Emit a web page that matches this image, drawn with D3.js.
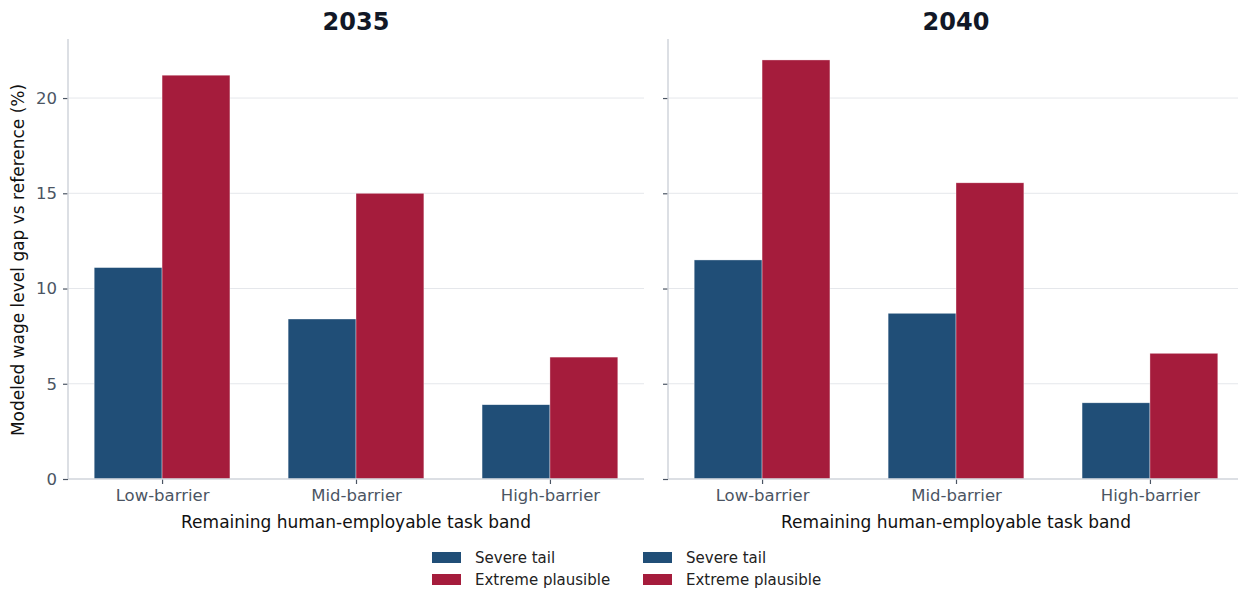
<!DOCTYPE html>
<html>
<head>
<meta charset="utf-8">
<script src="https://cdn.jsdelivr.net/npm/d3@7/dist/d3.min.js"></script>
<style>
  body { margin: 0; background: #fff; }
  svg { display: block; font-family: "DejaVu Sans", sans-serif; }
  .grid line { stroke: #e5e7eb; stroke-width: 1; }
</style>
</head>
<body>
<div id="chart"></div>
<script>
// data
const years = ['2035', '2040'];
const bands = ['Low-barrier', 'Mid-barrier', 'High-barrier'];
const seriesNames = ['Severe tail', 'Extreme plausible'];
const severe2035 = [11.1, 8.4, 3.9];
const extreme2035 = [21.2, 15.0, 6.4];
const severe2040 = [11.5, 8.7, 4.0];
const extreme2040 = [22.0, 15.55, 6.6];
const yTicks = [0, 5, 10, 15, 20];

const colors = ['#204e77', '#a51c3c'];

const panels = [
  { year: years[0], values: [severe2035, extreme2035] },
  { year: years[1], values: [severe2040, extreme2040] }
];

const width = 1238, height = 590;
const plotTop = 39, plotBottom = 479;
const panelX = [68, 668];
const panelW = 576;

const svg = d3.select('#chart').append('svg')
  .attr('width', width)
  .attr('height', height);

const yMax = d3.max([severe2035, extreme2035, severe2040, extreme2040].flat()) * 1.05;
const y = d3.scaleLinear().domain([0, yMax]).range([plotBottom, plotTop]);

// matplotlib style: bars at 0,1,2 with width .35 each, 5% margins
const barW = 0.35;
const lo = -barW - 0.05 * (2 + 2 * barW), hi = 2 + barW + 0.05 * (2 + 2 * barW);

let styleAxis = function(a) {
  a.attr('font-family', '"DejaVu Sans", sans-serif').attr('font-size', 16.5);
  a.select('.domain').remove();
  a.selectAll('.tick line').attr('stroke', '#4b5563').attr('stroke-width', 1.2);
  a.selectAll('.tick text').attr('fill', '#4b5563');
};

panels.forEach(function(p, pi) {
  let x0 = panelX[pi];
  let x = d3.scaleLinear().domain([lo, hi]).range([x0, x0 + panelW]);
  let g = svg.append('g');

  // gridlines
  g.append('g').attr('class', 'grid')
    .selectAll('line')
    .data(yTicks.slice(1))
    .enter().append('line')
    .attr('x1', x0).attr('x2', x0 + panelW)
    .attr('y1', function(d) { return y(d); })
    .attr('y2', function(d) { return y(d); });

  // bars
  p.values.forEach(function(vals, si) {
    g.selectAll('.bar' + si)
      .data(vals)
      .enter().append('rect')
      .attr('class', 'bar' + si)
      .attr('x', function(d, i) { return x(i + (si === 0 ? -barW : 0)); })
      .attr('width', x(barW) - x(0))
      .attr('y', function(d) { return y(d); })
      .attr('height', function(d) { return plotBottom - y(d); })
      .attr('fill', colors[si])
      .attr('stroke', '#ffffff')
      .attr('stroke-opacity', 0.6)
      .attr('stroke-width', 0.6);
  });

  // y axis
  let yAxis = d3.axisLeft(y).tickValues(yTicks).tickSize(5).tickPadding(6);
  if (pi === 1) yAxis.tickFormat('');
  g.append('g')
    .attr('transform', 'translate(' + x0 + ',0)')
    .call(yAxis)
    .call(styleAxis);

  // x axis
  g.append('g')
    .attr('transform', 'translate(0,' + plotBottom + ')')
    .call(d3.axisBottom(x).tickValues([0, 1, 2]).tickFormat(function(d) { return bands[d]; }).tickSize(5).tickPadding(5))
    .call(styleAxis);

  // spines
  g.append('line')
    .attr('x1', x0).attr('x2', x0)
    .attr('y1', plotTop).attr('y2', plotBottom)
    .attr('stroke', '#d1d5db').attr('stroke-width', 1.5);
  g.append('line')
    .attr('x1', x0).attr('x2', x0 + panelW)
    .attr('y1', plotBottom).attr('y2', plotBottom)
    .attr('stroke', '#d1d5db').attr('stroke-width', 1.5);

  // title
  g.append('text')
    .attr('x', x0 + panelW / 2)
    .attr('y', 30)
    .attr('text-anchor', 'middle')
    .attr('font-size', 24)
    .attr('font-weight', 'bold')
    .attr('fill', '#111827')
    .text(p.year);

  // x label
  g.append('text')
    .attr('x', x0 + panelW / 2)
    .attr('y', 528)
    .attr('text-anchor', 'middle')
    .attr('font-size', 17)
    .attr('fill', '#111111')
    .text('Remaining human-employable task band');
});

// y label
svg.append('text')
  .attr('transform', 'translate(24,260) rotate(-90)')
  .attr('text-anchor', 'middle')
  .attr('font-size', 17)
  .attr('fill', '#111111')
  .text('Modeled wage level gap vs reference (%)');

// legend (both panels contribute entries)
const legendX = [432, 643];
legendX.forEach(function(lx) {
  seriesNames.forEach(function(name, i) {
    let ly = 558 + i * 22;
    svg.append('rect')
      .attr('x', lx).attr('y', ly - 6)
      .attr('width', 29).attr('height', 11)
      .attr('fill', colors[i]);
    svg.append('text')
      .attr('x', lx + 43).attr('y', ly + 5)
      .attr('font-size', 15)
      .attr('fill', '#222222')
      .text(name);
  });
});
</script>
</body>
</html>
